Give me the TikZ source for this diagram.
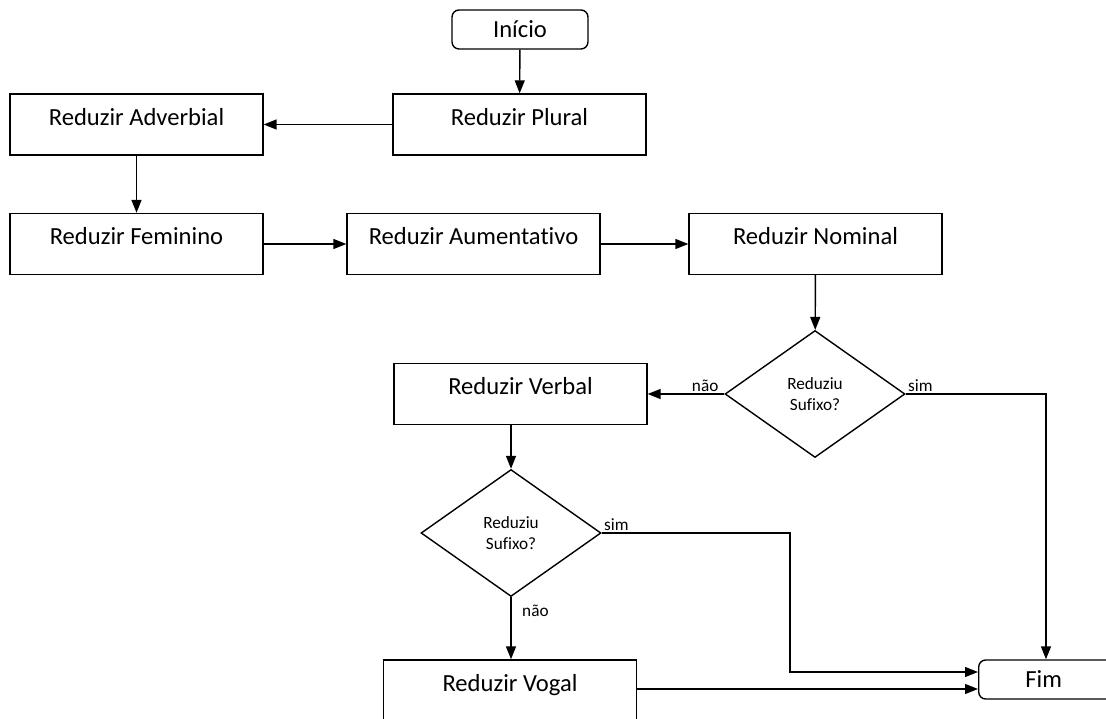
\documentclass[tikz,border=0pt]{standalone}
\usepackage{fontspec}
\setmainfont{Carlito}[Ligatures=NoCommon]
\usetikzlibrary{shapes.geometric,arrows.meta}

\begin{document}
\begin{tikzpicture}[x=0.02cm,y=-0.02cm,line width=0.8pt]
        \tikzstyle{bloco}=[draw,rectangle,minimum width=5.06cm,minimum height=1.22cm,inner sep=0pt,font=\fontsize{14}{16}\selectfont,text height=9.5pt,text depth=8.5pt]
        \tikzstyle{terminal}=[draw,rectangle,rounded corners=4pt,minimum width=2.72cm,minimum height=0.78cm,inner sep=0pt,font=\fontsize{14}{16}\selectfont]
        \tikzstyle{decisao}=[draw,diamond,minimum width=3.6cm,minimum height=2.54cm,inner sep=0pt,align=center,font=\fontsize{9.8}{12}\selectfont]
        \tikzstyle{rotulo}=[font=\fontsize{9.8}{11}\selectfont,inner sep=1pt]
        \tikzstyle{seta}=[-{Triangle[length=2.6mm,width=2mm]}]
        \useasboundingbox (0,0) rectangle (1106,719);
        \clip (0,0) rectangle (1106,719);
        \node[terminal] (inicio) at (520,29.5) {Início};
        \node[bloco] (plural) at (519.5,124.5) {Reduzir Plural};
        \node[bloco] (adverbial) at (136.5,124.5) {Reduzir Adverbial};
        \node[bloco] (feminino) at (136.5,244) {Reduzir Feminino};
        \node[bloco] (aumentativo) at (473.5,244) {Reduzir Aumentativo};
        \node[bloco] (nominal) at (815.5,244) {Reduzir Nominal};
        \node[decisao] (sufixoA) at (815,394) {Reduziu\\Sufixo?};
        \node[bloco] (verbal) at (520.5,394) {Reduzir Verbal};
        \node[decisao] (sufixoB) at (511,533) {Reduziu\\Sufixo?};
        \node[bloco] (vogal) at (510,690.5) {Reduzir Vogal};
        \node[terminal,minimum width=5cm,anchor=west] (fim) at (978,679.5) {\hspace*{-2.4cm}Fim};
        \coordinate (desvio) at (790,531);
        \coordinate (fimTopo) at ([xshift=1.36cm]fim.north west);
        \coordinate (fimA) at ([yshift=0.15cm]fim.west);
        \coordinate (fimB) at ([yshift=-0.19cm]fim.west);
        \draw[seta] (inicio) -- (plural);
        \draw[seta] (plural) -- (adverbial);
        \draw[seta] (adverbial) -- (feminino);
        \draw[seta] (feminino) -- (aumentativo);
        \draw[seta] (aumentativo) -- (nominal);
        \draw[seta] (nominal) -- (sufixoA);
        \draw[seta] (sufixoA) -- node[rotulo,above,pos=0.25] {não} (verbal);
        \draw[seta] (sufixoA.east) -| node[rotulo,above right,pos=0] {sim} (fimTopo);
        \draw[seta] (sufixoB.north |- verbal.south) -- (sufixoB.north);
        \draw[seta] (sufixoB.east) -- node[rotulo,above right,pos=0] {sim} (sufixoB.east -| desvio) |- (fimA);
        \draw[seta] (sufixoB.south) -- node[rotulo,right=5pt,pos=0.22] {não} (sufixoB.south |- vogal.north);
        \draw[seta] (vogal.east |- fimB) -- (fimB);
\end{tikzpicture}
\end{document}
